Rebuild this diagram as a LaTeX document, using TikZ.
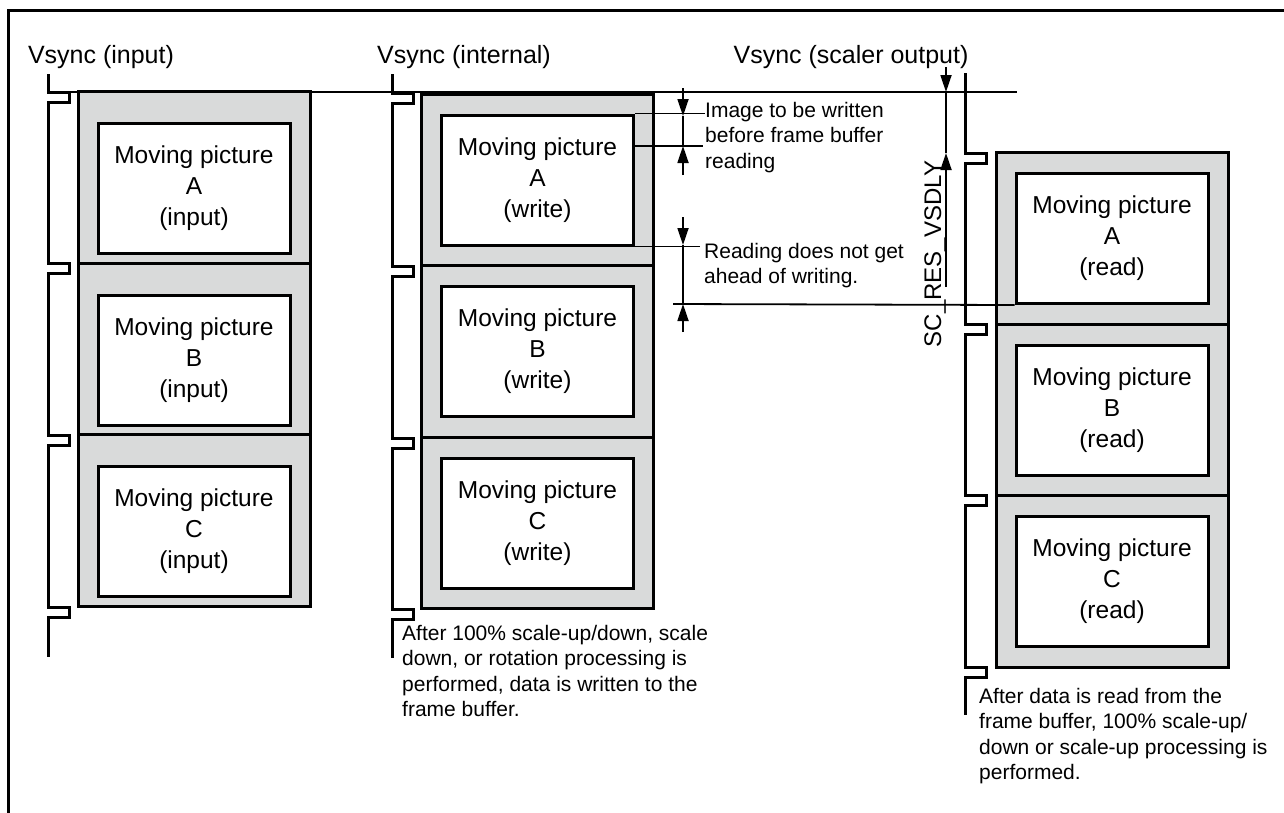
\documentclass[tikz,border=0pt]{standalone}
\usepackage{fontspec}
\setmainfont{Liberation Sans}
\usetikzlibrary{arrows.meta}
\definecolor{shade}{HTML}{D9DADA}

\begin{document}
\begin{tikzpicture}[x=1pt,y=-1pt,
 outer/.style={draw,line width=3pt,fill=shade,minimum width=232pt,minimum height=171.5pt,inner sep=0pt},
 inner/.style={draw,line width=3pt,fill=white,minimum width=192pt,minimum height=130pt,inner sep=0pt,align=center,font=\fontsize{24.5}{31}\selectfont},
 vsync/.style={line width=3pt},
 guide/.style={line width=1.8pt},
 dim/.style={line width=1.8pt,-{Triangle[length=17pt,width=11pt]}},
 title/.style={anchor=base,inner sep=0pt,font=\fontsize{25}{28}\selectfont},
 note/.style={anchor=north west,inner sep=0pt,align=left,font=\fontsize{21}{25.5}\selectfont}]
\useasboundingbox (0,0) rectangle (1284,812);
\draw[line width=3pt] (8,830) -- (8,10) -- (1300,10);
% common timing line
\draw[guide] (48,92) -- (1017,92);
% frame columns
\foreach \col/\x/\y/\dy/\txt in {in/194/177.5/11/input,wr/537.5/180/0/write,rd/1112/238.5/0/read}
 \foreach \k [count=\i from 0] in {A,B,C} {
  \node[outer] (\col F\k) at (\x,\y+171.5*\i) {};
  \node[inner] (\col\k) at (\x,\y+171.5*\i+\dy) {Moving picture\\\k\\(\txt)};
 }
% vsync pulses
\foreach \x/\top/\bot/\pa/\pb/\pc/\pd in {48/74/657/92/263/435/607,392/74/658/93/266/438/609,965/73/715/153/324/495/667}
 \draw[vsync] (\x,\top) \foreach \p in {\pa,\pb,\pc,\pd} {-- (\x,\p) -- ++(21,0) -- ++(0,10) -- ++(-21,0)} -- (\x,\bot);
\node[title] (vin) at (101,63) {Vsync (input)};
\node[title] (vint) at (464,63) {Vsync (internal)};
\node[title] (vout) at (851,63) {Vsync (scaler output)};
% write / read margins
\coordinate (wmid) at (703,146);
\coordinate (rstart) at (673,304);
\draw[guide] (wrA.north east) -- ++(70,0);
\draw[guide] (wrA.east |- wmid) -- (wmid);
\draw[guide] (wrA.south east) -- ++(65,0);
\draw[guide] (rstart) -- (rdA.south west);
\draw[dim] (683,88) -- (683,116);
\draw[guide] (683,116) -- (683,146);
\draw[dim] (683,175) -- (683,146);
\draw[dim] (683,217) -- (683,245);
\draw[guide] (683,245) -- (683,304);
\draw[dim] (683,332) -- (683,304);
% scaler delay
\draw[dim] (946,67) -- (946,92);
\draw[guide] (946,92) -- (946,153);
\draw[dim] (946,287) -- (946,153);
\node[anchor=base,rotate=90,inner sep=0pt,font=\fontsize{24}{28}\selectfont] (delay) at (941,254) {SC\_RES\_VSDLY};
\node[note] (wnote) at (705,102) {Image to be written\\before frame buffer\\reading};
\node[note] (rnote) at (704,243) {Reading does not get\\ahead of writing.};
\node[note] (wrnote) at (402,625) {After 100\% scale-up/down, scale\\down, or rotation processing is\\performed, data is written to the\\frame buffer.};
\node[note] (rdnote) at (979,688) {After data is read from the\\frame buffer, 100\% scale-up/\\down or scale-up processing is\\performed.};
\end{tikzpicture}
\end{document}
